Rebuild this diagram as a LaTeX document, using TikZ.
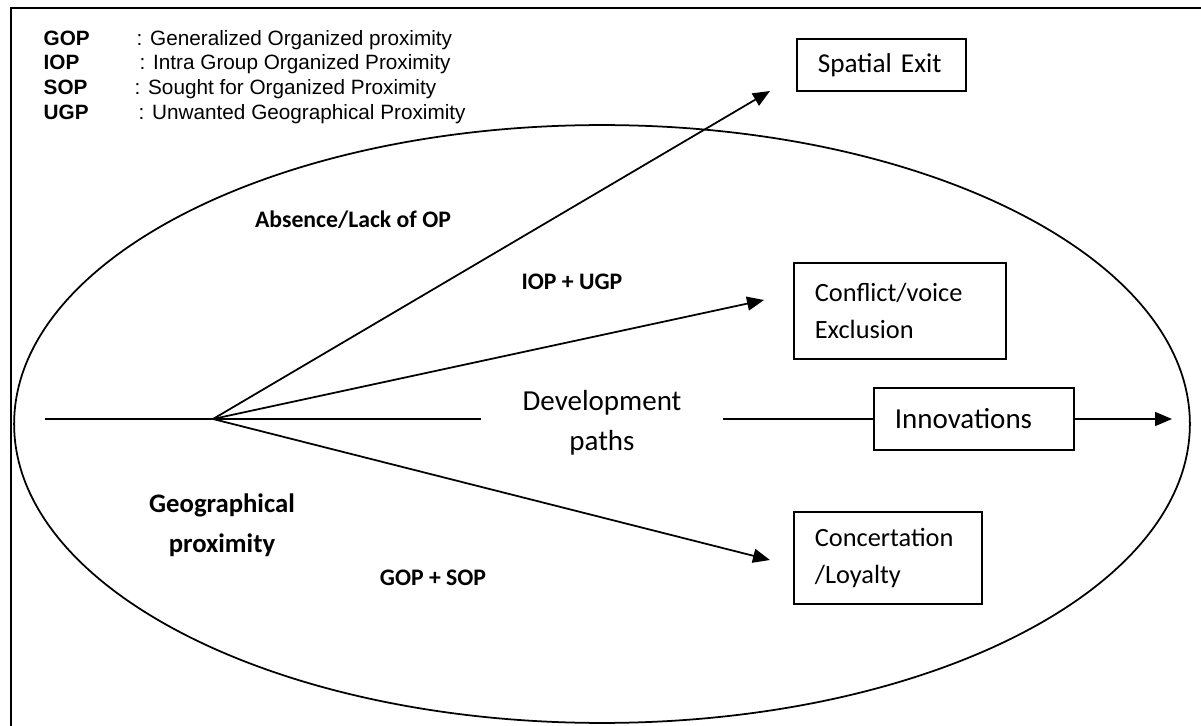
\documentclass[tikz,border=0pt]{standalone}
\usepackage{fontspec}
\setmainfont{Carlito}
\newfontfamily\arialfont{Liberation Sans}
\usetikzlibrary{arrows.meta,shapes.geometric}

\begin{document}
\begin{tikzpicture}[x = 0.02cm, y = -0.02cm,
		line width = 1pt,
		outcome/.style = {draw = black,
						  anchor = west,
						  align = left,
						  inner xsep = 0.42cm,
						  inner ysep = 0pt,
						  font = \fontsize{15}{21}\selectfont},
		tip/.style = {-{Triangle[length = 0.34cm, width = 0.28cm]}},
		pathlabel/.style = {font = \bfseries\fontsize{13.5}{16}\selectfont},
		legendkey/.style = {anchor = base west,
							font = \arialfont\bfseries\fontsize{11.8}{13}\selectfont},
		legendtext/.style = {anchor = base west,
							 font = \arialfont\fontsize{11.8}{13}\selectfont}]

	\useasboundingbox (0,0) rectangle (1201,726);
	\draw (11,726) -- (11,8) -- (1201,8);

	\draw (37,46) node[legendkey] (gopKey) {GOP};
	\draw (130,46) node[legendtext] (gopText) {: Generalized Organized proximity};
	\draw (37,70) node[legendkey] (iopKey) {IOP};
	\draw (133,70) node[legendtext] (iopText) {: Intra Group Organized Proximity};
	\draw (37,95) node[legendkey] (sopKey) {SOP};
	\draw (128,95) node[legendtext] (sopText) {: Sought for Organized Proximity};
	\draw (37,120) node[legendkey] (ugpKey) {UGP};
	\draw (132,120) node[legendtext] (ugpText) {: Unwanted Geographical Proximity};

	\draw (602,424) node[draw = black,
					 shape = ellipse,
					 minimum width = 23.52cm,
					 minimum height = 11.96cm,
					 inner sep = 0pt] (geo) {};

	\draw (45,419) coordinate (start);
	\draw (213,419) coordinate (fan);
	\draw (1172,419) coordinate (endTip);
	\draw (770,91) coordinate (exitTip);
	\draw (764,300) coordinate (conflictTip);
	\draw (770,560) coordinate (concTip);

	\draw (602,423) node[align = center,
					 minimum width = 4.82cm,
					 inner sep = 0pt,
					 font = \fontsize{16.5}{23}\selectfont] (dev) {Development\\paths};

	\draw (796,65) node[outcome,
					 text width = 2.54cm,
					 minimum height = 1.04cm,
					 font = \fontsize{15.5}{18}\selectfont] (exitBox) {Spatial Exit};
	\draw (793,311) node[outcome,
					 text width = 3.4cm,
					 minimum height = 1.92cm] (conflictBox) {Conflict/voice\\Exclusion};
	\draw (873,419) node[outcome,
					 text width = 3.16cm,
					 minimum height = 1.24cm,
					 font = \fontsize{16.5}{20}\selectfont] (innovBox) {Innovations};
	\draw (793,558) node[outcome,
					 text width = 2.92cm,
					 minimum height = 1.84cm] (concBox) {Concertation\\/Loyalty};

	\draw (353,220) node[pathlabel] (lackLabel) {Absence/Lack of OP};
	\draw (572,282) node[pathlabel] (iopLabel) {IOP + UGP};
	\draw (433,578) node[pathlabel] (gopLabel) {GOP + SOP};
	\draw (222,525) node[align = center,
					 font = \bfseries\fontsize{15.2}{23}\selectfont] (geoLabel) {Geographical\\proximity};

	\draw (start) -- (fan) -- (dev.west |- fan);
	\draw (dev.east |- fan) -- (innovBox.west);
	\draw[tip] (innovBox.east) -- (endTip);
	\draw[tip] (fan) -- (exitTip);
	\draw[tip] (fan) -- (conflictTip);
	\draw[tip] (fan) -- (concTip);
\end{tikzpicture}
\end{document}
